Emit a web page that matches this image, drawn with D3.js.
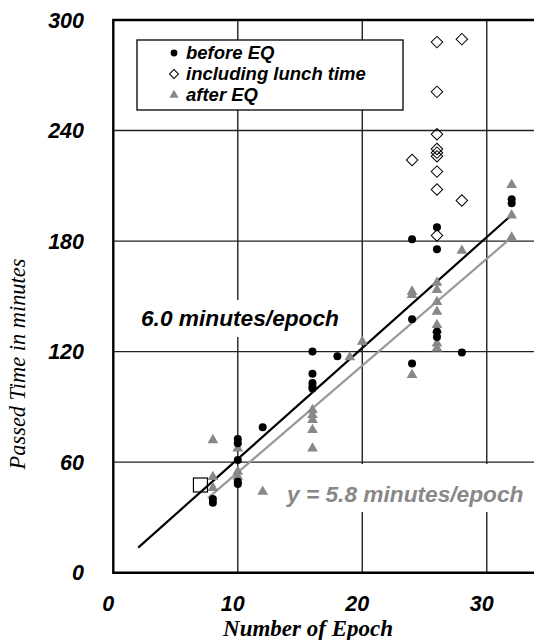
<!DOCTYPE html>
<html>
<head>
<meta charset="utf-8">
<script src="https://cdn.jsdelivr.net/npm/d3@7"></script>
<style>
  body { margin: 0; background: #fff; }
  text { font-family: "Liberation Sans", Arial, sans-serif; }
</style>
</head>
<body>
<svg id="chart" width="534" height="640"></svg>
<script>
var xTicks = [0, 10, 20, 30];
var yTicks = [0, 60, 120, 180, 240, 300];

// [epoch, minutes]
var beforeEQ = [[8,40],[8,38],[10,72.6],[10,70.3],[10,61.2],[10,49.4],[10,48.2],[12,79],
  [16,120],[16,108],[16,103],[16,101],[16,100],[18,117.5],
  [24,181],[24,137.6],[24,113.5],[26,187.5],[26,175.6],[26,130.8],[26,128],
  [28,119.5],[32,202.7],[32,200.5]];
var lunchTime = [[24,224],[26,288],[26,261],[26,238],[26,230],[26,228],[26,226],
  [26,217.7],[26,208],[26,183],[28,289.6],[28,202]];
var afterEQ = [[8,72],[8,52],[8,46],[10,67.5],[10,54.8],[10,52.1],[12,44],
  [16,88.3],[16,85.6],[16,82.9],[16,77.5],[16,67.5],[19,117],[20,125.4],
  [24,152.6],[24,150.8],[24,107.3],
  [26,157.4],[26,153.5],[26,147],[26,141.7],[26,134.5],[26,131.8],[26,124.5],[26,121.8],
  [28,174.8],[32,210.5],[32,194],[32,182]];
var squarePts = [[7,47.6]];

var beforeFit = [[2,13.6],[32,194.2]];   // 6.0 minutes/epoch
var afterFit = [[7.6,40.5],[32,182]];    // 5.8 minutes/epoch

var legendItems = ["before EQ", "including lunch time", "after EQ"];

var gray = "#888";

var svg = d3.select("#chart");

var x = d3.scaleLinear().domain([0, 35]).range([113.3, 549]);
var y = d3.scaleLinear().domain([0, 300]).range([572.7, 20]);

// grid
svg.selectAll(".vgrid")
  .data(xTicks.slice(1))
  .enter().append("line")
    .attr("x1", d => x(d)).attr("x2", d => x(d))
    .attr("y1", y(300)).attr("y2", y(0))
    .attr("stroke", "#222").attr("stroke-width", 1.4);
svg.selectAll(".hgrid")
  .data(yTicks.slice(1, -1))
  .enter().append("line")
    .attr("x1", x(0)).attr("x2", 534)
    .attr("y1", d => y(d)).attr("y2", d => y(d))
    .attr("stroke", "#222").attr("stroke-width", 1.4);

// white boxes behind the slope labels
svg.append("rect").attr("x", 137).attr("y", 300).attr("width", 208).attr("height", 37).attr("fill", "#fff");
svg.append("rect").attr("x", 280).attr("y", 464).attr("width", 254).attr("height", 48).attr("fill", "#fff");

// frame
svg.append("path")
  .attr("d", "M534," + y(300) + "H" + x(0) + "V" + y(0) + "H534")
  .attr("fill", "none").attr("stroke", "#000").attr("stroke-width", 2.4);

// fit lines
var line = d3.line().x(d => x(d[0])).y(d => y(d[1]));
svg.append("path").datum(afterFit).attr("d", line)
  .attr("stroke", "#999").attr("stroke-width", 2.2).attr("fill", "none");
svg.append("path").datum(beforeFit).attr("d", line)
  .attr("stroke", "#000").attr("stroke-width", 2.2).attr("fill", "none");

// points
svg.selectAll(".sq")
  .data(squarePts)
  .enter().append("rect")
    .attr("x", d => x(d[0]) - 7).attr("y", d => y(d[1]) - 7)
    .attr("width", 14).attr("height", 14)
    .attr("fill", "none").attr("stroke", "#000").attr("stroke-width", 1.2);

svg.selectAll(".tri")
  .data(afterEQ)
  .enter().append("path")
    .attr("d", d3.symbol(d3.symbolTriangle, 50))
    .attr("transform", d => "translate(" + x(d[0]) + "," + y(d[1]) + ")")
    .attr("fill", gray);

svg.selectAll(".dot")
  .data(beforeEQ)
  .enter().append("circle")
    .attr("cx", d => x(d[0])).attr("cy", d => y(d[1])).attr("r", 4)
    .attr("fill", "#000");

svg.selectAll(".dia")
  .data(lunchTime)
  .enter().append("path")
    .attr("d", d3.symbol(d3.symbolSquare, 66))
    .attr("transform", d => "translate(" + x(d[0]) + "," + y(d[1]) + ") rotate(45)")
    .attr("fill", "none").attr("stroke", "#000").attr("stroke-width", 1);

// legend
svg.append("rect").attr("x", 137).attr("y", 40).attr("width", 266).attr("height", 70)
  .attr("fill", "#fff").attr("stroke", "#000").attr("stroke-width", 1.3);
var lg = svg.selectAll(".lg")
  .data(legendItems)
  .enter().append("g")
    .attr("transform", (d, i) => "translate(174," + (53 + i * 21) + ")");
lg.append("text")
  .attr("x", 12).attr("dy", "0.35em")
  .attr("font-size", 18.5).attr("font-weight", "bold").attr("font-style", "italic")
  .text(d => d);
lg.filter((d, i) => i == 0).append("circle").attr("r", 3.4).attr("fill", "#000");
lg.filter((d, i) => i == 1).append("path")
  .attr("d", d3.symbol(d3.symbolSquare, 40)).attr("transform", "rotate(45)")
  .attr("fill", "none").attr("stroke", "#000");
lg.filter((d, i) => i == 2).append("path")
  .attr("d", d3.symbol(d3.symbolTriangle, 36)).attr("fill", gray);

// slope labels
svg.append("text").attr("x", 141).attr("y", 318).attr("dy", "0.35em")
  .attr("font-size", 22.7).attr("font-weight", "bold").attr("font-style", "italic")
  .text("6.0 minutes/epoch");
svg.append("text").attr("x", 287).attr("y", 494).attr("dy", "0.35em")
  .attr("font-size", 22.7).attr("font-weight", "bold").attr("font-style", "italic")
  .attr("fill", gray)
  .text("y = 5.8 minutes/epoch");

// tick labels
svg.selectAll(".ylab")
  .data(yTicks)
  .enter().append("text")
    .attr("x", 84).attr("y", d => y(d)).attr("dy", "0.35em")
    .attr("text-anchor", "end")
    .attr("font-size", 21.5).attr("font-weight", "bold").attr("font-style", "italic")
    .text(d => d);
svg.selectAll(".xlab")
  .data(xTicks)
  .enter().append("text")
    .attr("x", d => x(d) - 5).attr("y", 603).attr("dy", "0.35em")
    .attr("text-anchor", "middle")
    .attr("font-size", 21.5).attr("font-weight", "bold").attr("font-style", "italic")
    .text(d => d);

// axis titles
svg.append("text")
  .attr("x", 308).attr("y", 628).attr("dy", "0.35em").attr("text-anchor", "middle")
  .style("font-family", "'Liberation Serif', 'Times New Roman', serif")
  .attr("font-size", 23).attr("font-weight", "bold").attr("font-style", "italic")
  .text("Number of Epoch");
svg.append("text")
  .attr("transform", "translate(17,364) rotate(-90)")
  .attr("dy", "0.35em").attr("text-anchor", "middle")
  .style("font-family", "'Liberation Serif', 'Times New Roman', serif")
  .attr("font-size", 22.4).attr("font-style", "italic")
  .text("Passed Time in minutes");
</script>
</body>
</html>
